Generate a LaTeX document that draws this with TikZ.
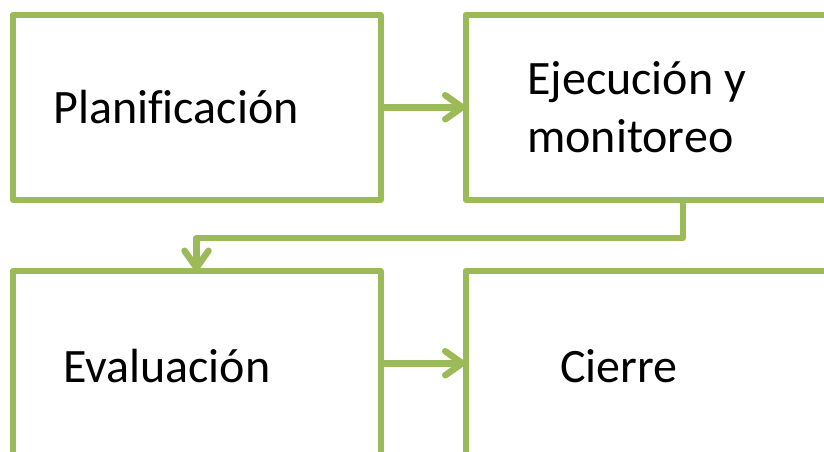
\documentclass[tikz,border=0pt]{standalone}
\usepackage{fontspec}
\setmainfont{Carlito}[Ligatures=NoCommon]
\usetikzlibrary{arrows.meta,calc}
\definecolor{olive}{HTML}{9BBB59}
\tikzset{
  box/.style={draw=olive, line width=6pt, line join=round, minimum width=368pt, minimum height=184.5pt, inner sep=0pt, outer sep=0pt},
  lbl/.style={anchor=base west, inner sep=0pt, font=\fontsize{48}{58}\selectfont},
  conn/.style={draw=olive, line width=6.5pt, line join=round, -{Straight Barb[length=17pt,width=24pt,line cap=round,line join=round]}}
}
\begin{document}
\begin{tikzpicture}[x=1pt,y=-1pt]
\useasboundingbox (0,0) rectangle (824,452);
\clip (0,0) rectangle (824,452);
\node[box] (tl) at (196.5,107.25) {};
\node[box] (tr) at (649.5,107.25) {};
\node[box] (bl) at (196.5,363.25) {};
\node[box] (br) at (649.5,363.25) {};
\node[lbl] (t1) at (53,123) {Planificación};
\node[lbl] (t2) at (527,94) {Ejecución y};
\node[lbl] (t3) at (527,152) {monitoreo};
\node[lbl] (t4) at (63,382) {Evaluación};
\node[lbl] (t5) at (560,382) {Cierre};
\coordinate (down) at ([xshift=217.5pt]tr.south west);
\draw[conn] (tl.east) -- (tr.west);
\draw[conn] (down) -- ++(0,38.5) -| (bl.north);
\draw[conn] (bl.east) -- (br.west);
\end{tikzpicture}
\end{document}
